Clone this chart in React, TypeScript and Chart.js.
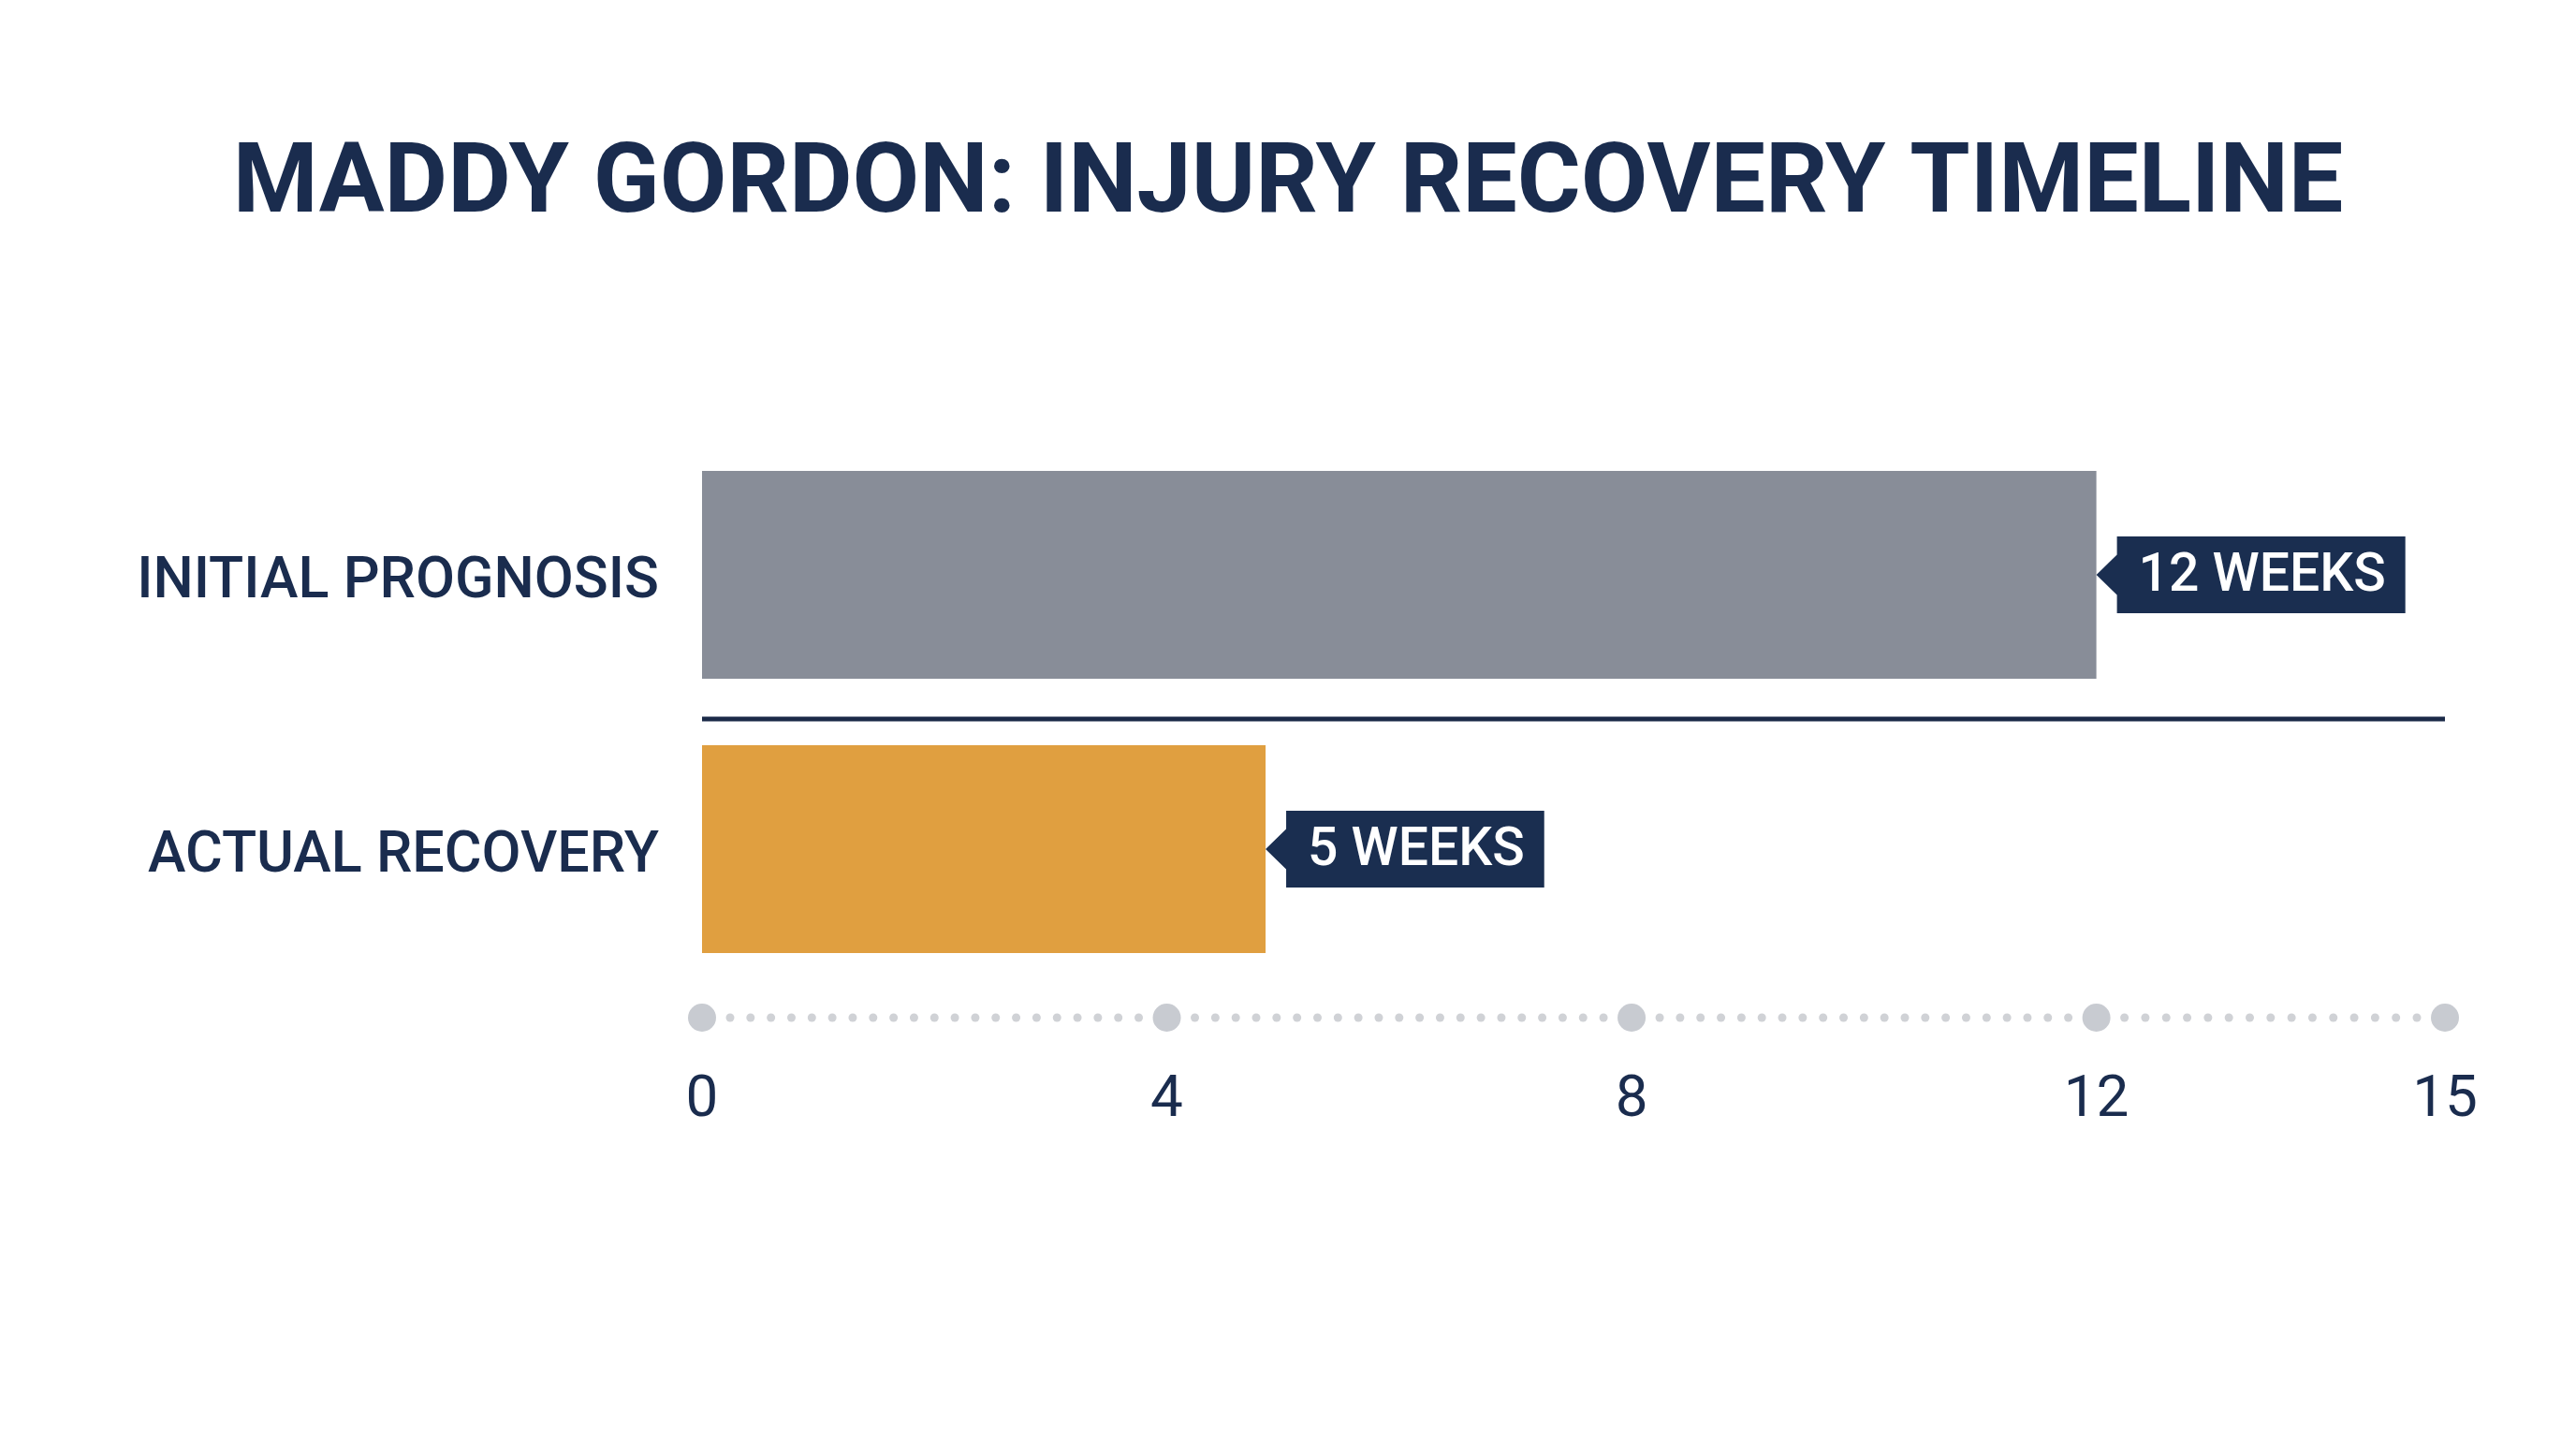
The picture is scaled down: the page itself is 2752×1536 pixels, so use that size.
import React, { useEffect, useRef } from "react";
import { Chart, registerables } from "chart.js";

Chart.register(...registerables);

const TITLE = "MADDY GORDON: INJURY RECOVERY TIMELINE";
const categories = ["INITIAL PROGNOSIS", "ACTUAL RECOVERY"];
const weeks = [12, 4.85];
const valueLabels = ["12 WEEKS", "5 WEEKS"];
const xTicks = [0, 4, 8, 12, 15];
const barColors = ["#888d98", "#e09f40"];

const NAVY = "#1a2c4e";
const W = 2752;
const H = 1536;

export default function App() {
  const ref = useRef<HTMLCanvasElement>(null);

  useEffect(() => {
    const canvas = ref.current!;
    const decor = {
      id: "decor",
      afterDraw(chart: any) {
        const { ctx, chartArea, scales } = chart;
        const x = scales.x;
        const y = scales.y;
        ctx.save();

        // title
        ctx.fillStyle = NAVY;
        ctx.font = "700 104px Roboto";
        ctx.textAlign = "center";
        ctx.textBaseline = "middle";
        ctx.fillText(TITLE, chart.width / 2, 200);

        // separator line between bars
        const sepY = y.getPixelForValue(0.5) + 7.5;
        ctx.fillStyle = "#1b2a48";
        ctx.fillRect(chartArea.left, sepY - 2.5, chartArea.right - chartArea.left, 5);

        // dotted axis
        const axY = chartArea.bottom + 33.5;
        const px = xTicks.map((v) => x.getPixelForValue(v));
        ctx.fillStyle = "#d0d2d6";
        for (let i = 0; i < px.length - 1; i++) {
          const a = px[i];
          const b = px[i + 1];
          const n = Math.round((b - a) / 21.5) - 2;
          const s = (b - a - 60) / (n - 1);
          for (let k = 0; k < n; k++) {
            ctx.beginPath();
            ctx.arc(a + 30 + k * s, axY, 4.5, 0, Math.PI * 2);
            ctx.fill();
          }
        }
        ctx.fillStyle = "#c8cbd1";
        px.forEach((p) => {
          ctx.beginPath();
          ctx.arc(p, axY, 15, 0, Math.PI * 2);
          ctx.fill();
        });

        // value callouts
        const meta = chart.getDatasetMeta(0);
        meta.data.forEach((bar: any, i: number) => {
          const tipX = bar.x;
          const cy = bar.y;
          ctx.font = "500 57px Roboto";
          const tw = ctx.measureText(valueLabels[i]).width;
          const bx = tipX + 22;
          const bh = 82;
          const bw = tw + 44;
          ctx.fillStyle = "#1a2e50";
          ctx.beginPath();
          ctx.moveTo(tipX, cy);
          ctx.lineTo(bx, cy - 21.5);
          ctx.lineTo(bx, cy - bh / 2);
          ctx.lineTo(bx + bw, cy - bh / 2);
          ctx.lineTo(bx + bw, cy + bh / 2);
          ctx.lineTo(bx, cy + bh / 2);
          ctx.lineTo(bx, cy + 21.5);
          ctx.closePath();
          ctx.fill();
          ctx.fillStyle = "#ffffff";
          ctx.textAlign = "left";
          ctx.textBaseline = "middle";
          ctx.fillText(valueLabels[i], bx + 23, cy + 3);
        });

        ctx.restore();
      },
    };

    const chart = new Chart(canvas, {
      type: "bar",
      data: {
        labels: categories,
        datasets: [
          {
            data: weeks,
            backgroundColor: barColors,
            borderWidth: 0,
            barPercentage: 0.758,
            categoryPercentage: 1,
          },
        ],
      },
      options: {
        indexAxis: "y",
        responsive: false,
        animation: false,
        devicePixelRatio: 1,
        layout: { padding: { top: 467.5, right: 140, left: 0, bottom: 0 } },
        plugins: {
          legend: { display: false },
          title: { display: false },
          tooltip: { enabled: false },
        },
        scales: {
          x: {
            type: "linear",
            min: 0,
            max: 15,
            grid: { display: false, drawTicks: false },
            border: { display: false },
            afterBuildTicks: (s: any) => {
              s.ticks = xTicks.map((v) => ({ value: v }));
            },
            afterFit: (s: any) => {
              s.height = H - 1053.5;
            },
            ticks: {
              autoSkip: false,
              maxRotation: 0,
              padding: 86,
              color: NAVY,
              font: { family: "Roboto", size: 62, weight: "400" },
              callback: (v: any) => String(v),
            },
          },
          y: {
            grid: { display: false, drawTicks: false },
            border: { display: false },
            afterFit: (s: any) => {
              s.width = 750;
            },
            ticks: {
              padding: 46,
              labelOffset: 9,
              color: NAVY,
              font: { family: "Roboto", size: 61, weight: "500" },
            },
          },
        },
      },
      plugins: [decor],
    } as any);

    return () => chart.destroy();
  }, []);

  return (
    <div style={{ position: "fixed", left: 0, top: 0, width: W, height: H, background: "#ffffff" }}>
      <canvas ref={ref} width={W} height={H} style={{ width: W, height: H, display: "block" }} />
    </div>
  );
}
